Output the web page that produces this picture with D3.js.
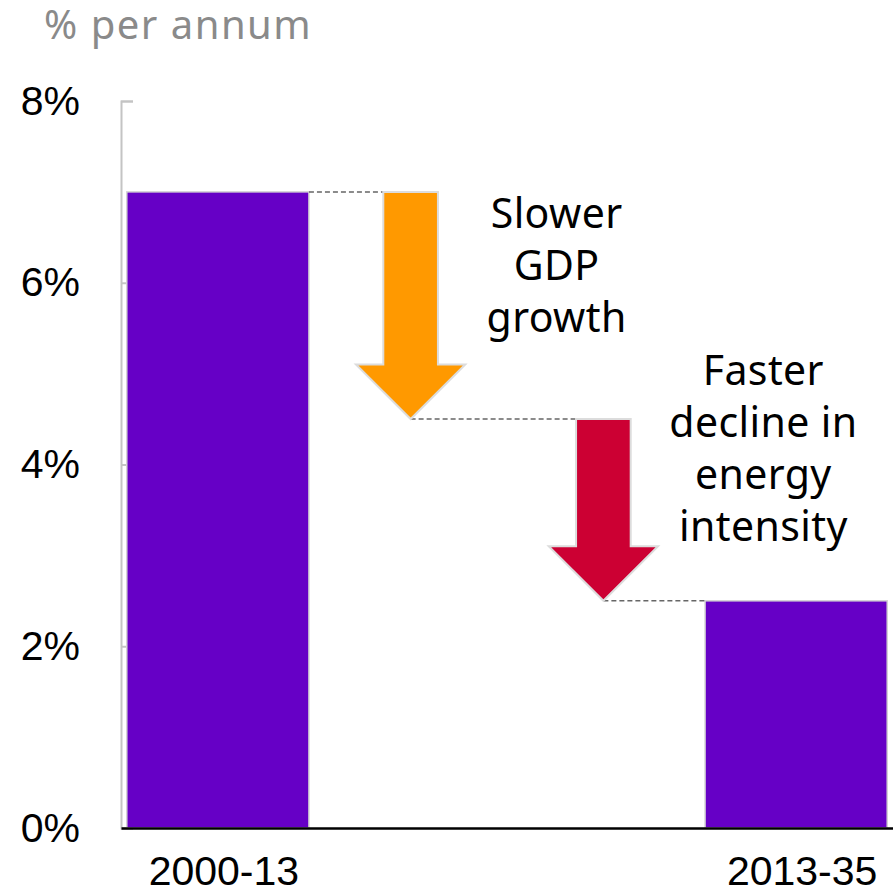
<!DOCTYPE html>
<html>
<head>
<meta charset="utf-8">
<script src="https://cdn.jsdelivr.net/npm/d3@7"></script>
<style>
  body { margin: 0; background: #fff; }
  svg { display: block; }
</style>
</head>
<body>
<svg width="893" height="892"></svg>
<script>
// chart values
const categories = ['2000-13', 'gdp', 'intensity', '2013-35'];
const periods = ['2000-13', '2013-35'];
const growth = [7.0, 2.5];
const drivers = ['gdp', 'intensity'];
const driverFrom = [7.0, 4.5];
const driverTo = [4.5, 2.5];
const driverColors = ['#ff9900', '#cc0033'];
const driverLabels = [['Slower', 'GDP', 'growth'], ['Faster', 'decline in', 'energy', 'intensity']];
const yTicks = [0, 2, 4, 6, 8];

const svg = d3.select('svg');
const plot = { left: 121, right: 893, top: 101, bottom: 828 };

const x = d3.scaleBand().domain(categories).range([plot.left, plot.right])
  .paddingInner(0.055).paddingOuter(0.03);
const y = d3.scaleLinear().domain([0, 8]).range([plot.bottom, plot.top]);
const bw = x.bandwidth();

// unit title
svg.append('text')
  .attr('x', 44).attr('y', 39)
  .attr('font-family', 'Noto Sans, sans-serif')
  .attr('font-size', 40)
  .attr('letter-spacing', 1.5)
  .attr('fill', '#8a8a8a')
  .text('% per annum');

// y axis
const yAxis = svg.append('g')
  .attr('transform', `translate(${plot.left},0)`)
  .call(d3.axisLeft(y).tickValues(yTicks).tickFormat(d => d + '%')
    .tickSizeInner(-12).tickSizeOuter(-12).tickPadding(41));
yAxis.select('.domain').attr('stroke', '#c4c4c4').attr('stroke-width', 2);
yAxis.selectAll('.tick line').attr('stroke', '#c4c4c4').attr('stroke-width', 2);
yAxis.selectAll('.tick text')
  .attr('font-family', 'Liberation Sans, Arial, sans-serif')
  .attr('font-size', 41).attr('fill', '#000');

// bars
svg.selectAll('rect.bar')
  .data(periods)
  .join('rect')
  .attr('class', 'bar')
  .attr('x', d => x(d))
  .attr('y', (d, i) => y(growth[i]))
  .attr('width', bw)
  .attr('height', (d, i) => y(0) - y(growth[i]))
  .attr('fill', '#6600c6')
  .attr('stroke', '#d4d4d4')
  .attr('stroke-width', 1.5);

// arrows
const shaftW = bw * 0.3, headW = bw * 0.6, headH = bw * 0.3;
function arrowPath(cx, y0, y1) {
  const p = d3.path();
  p.moveTo(cx - shaftW / 2, y0);
  p.lineTo(cx + shaftW / 2, y0);
  p.lineTo(cx + shaftW / 2, y1 - headH);
  p.lineTo(cx + headW / 2, y1 - headH);
  p.lineTo(cx, y1);
  p.lineTo(cx - headW / 2, y1 - headH);
  p.lineTo(cx - shaftW / 2, y1 - headH);
  p.closePath();
  return p.toString();
}

// dashed connectors
const connectors = [
  [x(periods[0]) + bw, x(drivers[0]) + bw / 2 - shaftW / 2, y(driverFrom[0])],
  [x(drivers[0]) + bw / 2, x(drivers[1]) + bw / 2 - shaftW / 2, y(driverFrom[1])],
  [x(drivers[1]) + bw / 2, x(periods[1]), y(growth[1])]
];
svg.selectAll('line.conn')
  .data(connectors)
  .join('line')
  .attr('class', 'conn')
  .attr('x1', d => d[0]).attr('x2', d => d[1])
  .attr('y1', d => d[2]).attr('y2', d => d[2])
  .attr('stroke', '#666')
  .attr('stroke-width', 1.5)
  .attr('stroke-dasharray', '5,3');

svg.selectAll('path.arrow')
  .data(drivers)
  .join('path')
  .attr('class', 'arrow')
  .attr('d', (d, i) => arrowPath(x(d) + bw / 2, y(driverFrom[i]), y(driverTo[i])))
  .attr('fill', (d, i) => driverColors[i])
  .attr('stroke', '#dcdcdc')
  .attr('stroke-width', 2)
  .attr('stroke-linejoin', 'miter');

// annotation text, offsets from arrow centre / start
const labelLayout = [{ dx: 146, dy: 36 }, { dx: 160, dy: -34 }];
drivers.forEach((d, i) => {
  const t = svg.append('text')
    .attr('text-anchor', 'middle')
    .attr('font-family', 'Noto Sans, sans-serif')
    .attr('font-size', 41)
    .attr('letter-spacing', 0.4)
    .attr('fill', '#000');
  driverLabels[i].forEach((line, j) => {
    t.append('tspan')
      .attr('x', x(d) + bw / 2 + labelLayout[i].dx)
      .attr('y', y(driverFrom[i]) + labelLayout[i].dy + j * 52)
      .text(line);
  });
});

// x axis
const xAxis = svg.append('g')
  .attr('transform', `translate(0,${plot.bottom})`)
  .call(d3.axisBottom(x).tickValues(periods).tickSize(0).tickSizeOuter(0).tickPadding(28));
xAxis.select('.domain').attr('stroke', '#000').attr('stroke-width', 2.5);
xAxis.selectAll('.tick text')
  .attr('font-family', 'Liberation Sans, Arial, sans-serif')
  .attr('font-size', 41).attr('fill', '#000')
  .attr('dx', 6);
</script>
</body>
</html>
